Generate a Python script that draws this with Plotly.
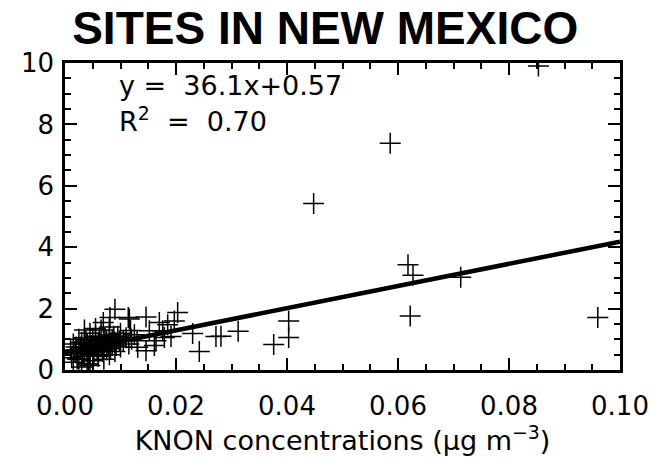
import plotly.graph_objects as go

# ---- data ----
knon_x = [
    # outliers / spread points
    0.0853, 0.0586, 0.0448, 0.0618, 0.0627, 0.0713, 0.0622, 0.0960,
    0.0403, 0.0403, 0.0376, 0.0312, 0.0281, 0.0272, 0.0242, 0.0230,
    0.0203, 0.0197, 0.0185, 0.0176, 0.0170, 0.0191, 0.0179, 0.0164,
    0.0152, 0.0146, 0.0146, 0.0161, 0.0131, 0.0118, 0.0116, 0.0114,
    0.0090, 0.0081, 0.0069,
    # dense cluster near the origin
    0.0020, 0.0020, 0.0025, 0.0030, 0.0030, 0.0030, 0.0035, 0.0035,
    0.0040, 0.0040, 0.0040, 0.0045, 0.0045, 0.0050, 0.0050, 0.0050,
    0.0055, 0.0055, 0.0060, 0.0060, 0.0060, 0.0065, 0.0065, 0.0070,
    0.0070, 0.0070, 0.0075, 0.0075, 0.0080, 0.0080, 0.0085, 0.0085,
    0.0090, 0.0090, 0.0095, 0.0100, 0.0100, 0.0105, 0.0110, 0.0115,
    0.0120, 0.0125, 0.0130, 0.0045, 0.0025, 0.0055, 0.0035, 0.0080,
    0.0022, 0.0042, 0.0060,
    0.0010, 0.0012, 0.0015, 0.0015, 0.0018, 0.0028, 0.0032, 0.0038,
    0.0043, 0.0048, 0.0052, 0.0058, 0.0062, 0.0068, 0.0072, 0.0078,
    0.0082, 0.0088, 0.0092, 0.0098,
]
ratio_y = [
    9.90, 7.39, 5.42, 3.43, 3.09, 3.02, 1.76, 1.71,
    1.60, 1.06, 0.83, 1.26, 1.10, 1.09, 0.60, 1.19,
    1.87, 1.60, 1.47, 1.28, 1.55, 1.09, 1.06, 0.95,
    1.28, 1.73, 0.63, 0.80, 0.74, 1.29, 1.66, 1.71,
    1.98, 1.71, 1.55,
    0.55, 0.75, 0.35, 0.10, 0.60, 0.90, 0.45, 1.05,
    0.20, 0.70, 0.85, 0.50, 1.20, 0.30, 0.65, 0.95,
    0.80, 1.10, 0.45, 0.60, 0.90, 0.75, 1.30, 0.35,
    0.85, 1.05, 0.65, 0.95, 0.50, 1.15, 0.80, 1.00,
    0.60, 0.90, 1.10, 0.75, 1.20, 0.95, 1.05, 0.85,
    1.00, 1.15, 0.95, 0.15, 1.00, 1.35, 1.30, 1.40,
    0.36, 0.20, 0.47,
    0.65, 0.40, 0.85, 0.25, 0.60, 0.75, 0.55, 0.95,
    0.65, 0.80, 0.55, 0.70, 1.00, 0.60, 0.95, 0.85,
    0.70, 1.10, 0.80, 0.95,
]
fit_slope = 36.1
fit_intercept = 0.57
fit_r2 = 0.70
line_x = [0.0, 0.1]
line_y = [fit_slope * v + fit_intercept for v in line_x]

x_ticks = [0.00, 0.02, 0.04, 0.06, 0.08, 0.10]
y_ticks = [0, 2, 4, 6, 8, 10]

title_text = "SITES IN NEW MEXICO"
x_title = "KNON concentrations (μg m<sup>−3</sup>)"

FONT = "DejaVu Sans"

fig = go.Figure()
fig.add_trace(go.Scatter(
    x=line_x, y=line_y, mode="lines",
    line=dict(color="black", width=4.5),
    showlegend=False, hoverinfo="skip",
))
fig.add_trace(go.Scatter(
    x=knon_x, y=ratio_y, mode="markers",
    marker=dict(symbol="cross-thin", size=15, color="black",
                line=dict(color="black", width=1.5)),
    showlegend=False,
))

axis_common = dict(
    showline=True, linecolor="black", linewidth=2.5, mirror="ticks",
    ticks="inside", ticklen=12, tickwidth=2, tickcolor="black",
    showgrid=False, zeroline=False,
    tickfont=dict(family=FONT, size=26, color="black"),
)

fig.update_xaxes(
    range=[0, 0.1], tickvals=x_ticks, tickformat=".2f",
    minor=dict(ticks="inside", ticklen=6, tickwidth=2, dtick=0.005,
               tickcolor="black", showgrid=False),
    ticklabelstandoff=11,
    title=dict(text=x_title, font=dict(family=FONT, size=27, color="black"),
               standoff=6),
    **axis_common,
)
fig.update_yaxes(
    range=[0, 10], tickvals=y_ticks,
    minor=dict(ticks="inside", ticklen=6, tickwidth=2, dtick=0.5,
               tickcolor="black", showgrid=False),
    ticklabelstandoff=3,
    **axis_common,
)

fig.add_annotation(
    xref="paper", yref="paper", x=0.093, y=0.928,
    xanchor="left", yanchor="middle", showarrow=False,
    text=f"y =  {fit_slope}x+{fit_intercept}",
    font=dict(family=FONT, size=27, color="black"),
)
fig.add_annotation(
    xref="paper", yref="paper", x=0.093, y=0.815,
    xanchor="left", yanchor="middle", showarrow=False,
    text=f"R<sup>2</sup>  =  {fit_r2:.2f}",
    font=dict(family=FONT, size=27, color="black"),
)

fig.update_layout(
    width=661, height=458,
    margin=dict(l=65, r=38, t=63, b=85),
    paper_bgcolor="white", plot_bgcolor="white",
    title=dict(text=f"<b>{title_text}</b>", x=0.492, xanchor="center",
               y=0.94, yanchor="middle", yref="container",
               font=dict(family="Liberation Sans", size=46, color="black")),
)

fig.write_html("out.html",
               config={"displayModeBar": False},
               post_script="document.body.style.margin='0';")
